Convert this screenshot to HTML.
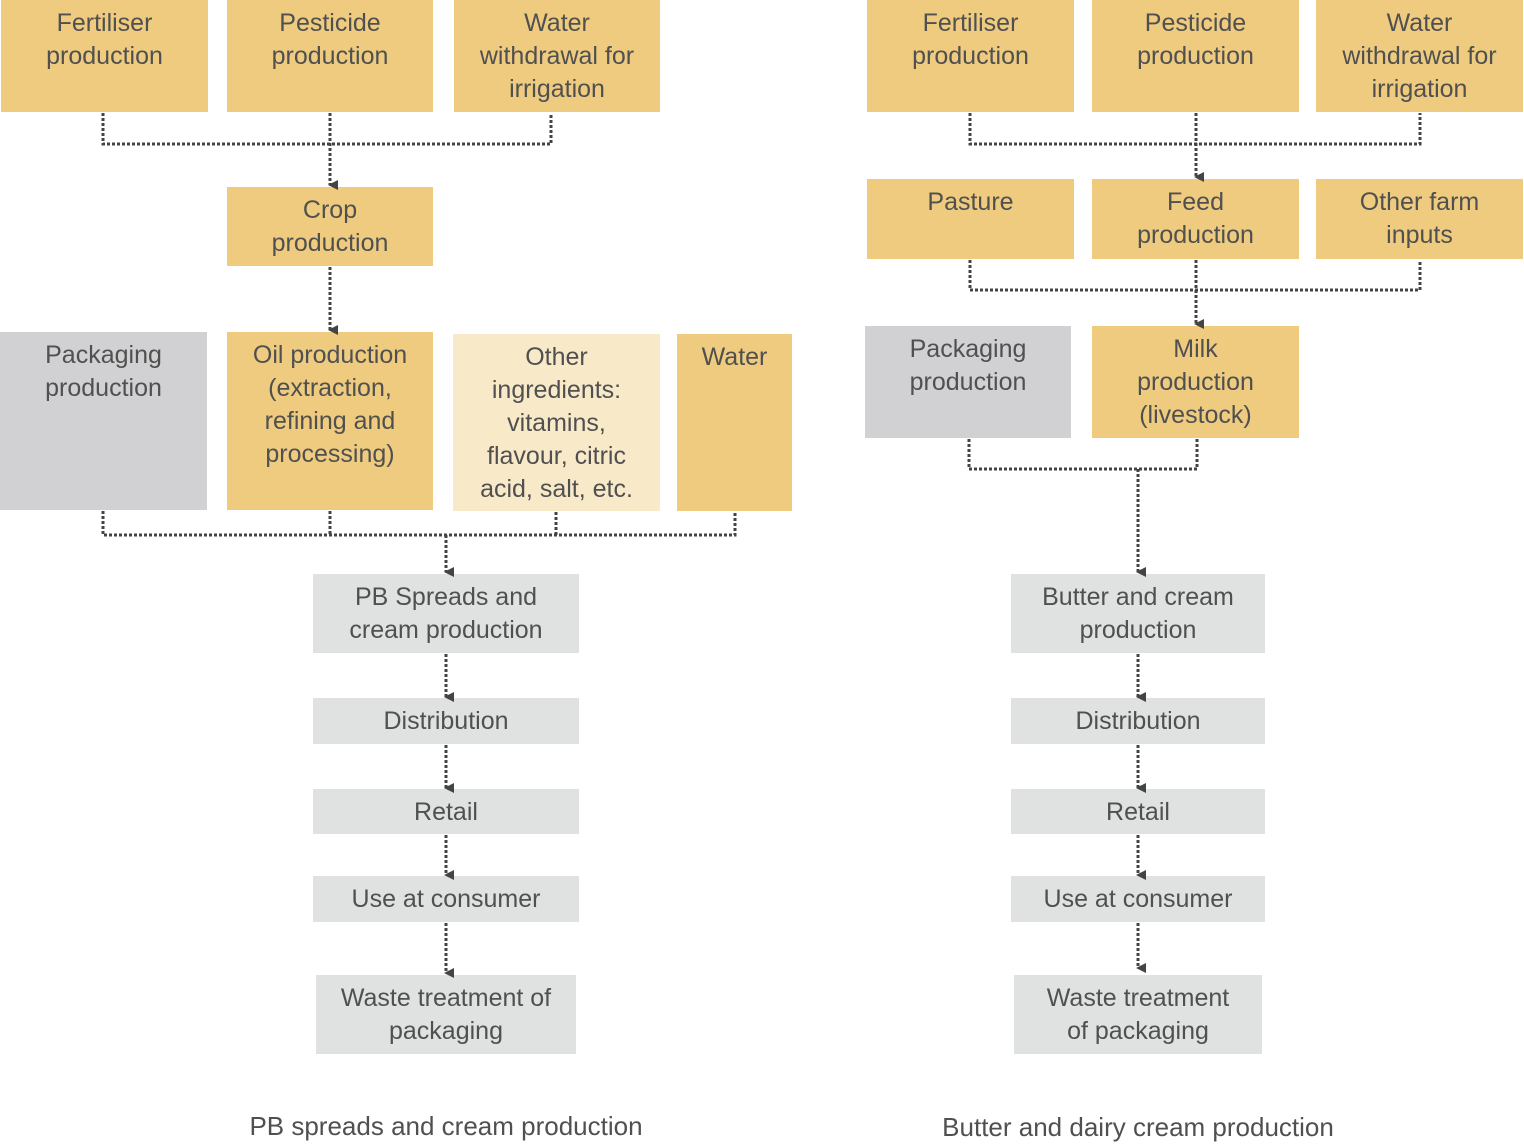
<!DOCTYPE html>
<html><head><meta charset="utf-8"><style>
body{margin:0;width:1524px;height:1145px;background:#fff;position:relative;overflow:hidden;font-family:"Liberation Sans",Arial,sans-serif;}
.b{position:absolute;box-sizing:border-box;padding-top:7px;text-align:center;font-size:25px;line-height:33px;color:#505050;}
.y{background:#eecb7e}.g{background:#d1d1d3}.l{background:#e0e1e1}.c{background:#f8e9c9}
.cap{position:absolute;font-size:26px;color:#505050;text-align:center;width:600px;}
svg{position:absolute;left:0;top:0}
</style></head><body>
<div class="b y" style="left:1px;top:0;width:207px;height:112px">Fertiliser<br>production</div>
<div class="b y" style="left:227px;top:0;width:206px;height:112px">Pesticide<br>production</div>
<div class="b y" style="left:454px;top:0;width:206px;height:112px">Water<br>withdrawal for<br>irrigation</div>
<div class="b y" style="left:227px;top:187px;width:206px;height:79px">Crop<br>production</div>
<div class="b g" style="left:0;top:332px;width:207px;height:178px">Packaging<br>production</div>
<div class="b y" style="left:227px;top:332px;width:206px;height:178px">Oil production<br>(extraction,<br>refining and<br>processing)</div>
<div class="b c" style="left:453px;top:334px;width:207px;height:177px">Other<br>ingredients:<br>vitamins,<br>flavour, citric<br>acid, salt, etc.</div>
<div class="b y" style="left:677px;top:334px;width:115px;height:177px">Water</div>
<div class="b l" style="left:313px;top:574px;width:266px;height:79px">PB Spreads and<br>cream production</div>
<div class="b l" style="left:313px;top:698px;width:266px;height:46px">Distribution</div>
<div class="b l" style="left:313px;top:789px;width:266px;height:45px">Retail</div>
<div class="b l" style="left:313px;top:876px;width:266px;height:46px">Use at consumer</div>
<div class="b l" style="left:316px;top:975px;width:260px;height:79px">Waste treatment of<br>packaging</div>
<div class="cap" style="left:146px;top:1111px">PB spreads and cream production</div>

<div class="b y" style="left:867px;top:0;width:207px;height:112px">Fertiliser<br>production</div>
<div class="b y" style="left:1092px;top:0;width:207px;height:112px">Pesticide<br>production</div>
<div class="b y" style="left:1316px;top:0;width:207px;height:112px">Water<br>withdrawal for<br>irrigation</div>
<div class="b y" style="left:867px;top:179px;width:207px;height:80px">Pasture</div>
<div class="b y" style="left:1092px;top:179px;width:207px;height:80px">Feed<br>production</div>
<div class="b y" style="left:1316px;top:179px;width:207px;height:80px">Other farm<br>inputs</div>
<div class="b g" style="left:865px;top:326px;width:206px;height:112px">Packaging<br>production</div>
<div class="b y" style="left:1092px;top:326px;width:207px;height:112px">Milk<br>production<br>(livestock)</div>
<div class="b l" style="left:1011px;top:574px;width:254px;height:79px">Butter and cream<br>production</div>
<div class="b l" style="left:1011px;top:698px;width:254px;height:46px">Distribution</div>
<div class="b l" style="left:1011px;top:789px;width:254px;height:45px">Retail</div>
<div class="b l" style="left:1011px;top:876px;width:254px;height:46px">Use at consumer</div>
<div class="b l" style="left:1014px;top:975px;width:248px;height:79px">Waste treatment<br>of packaging</div>
<div class="cap" style="left:838px;top:1112px">Butter and dairy cream production</div>

<svg width="1524" height="1145">
<defs><marker id="a" markerWidth="10" markerHeight="10" refX="5" refY="8" orient="auto" markerUnits="userSpaceOnUse"><path d="M0,0 L10,0 L5,10 z" fill="#444"/></marker></defs>
<g fill="none" stroke="#444" stroke-width="3" stroke-dasharray="3 2">
<path d="M103,113 V144 H551 V113"/>
<path d="M330,113 V185" marker-end="url(#a)"/>
<path d="M330,267 V330" marker-end="url(#a)"/>
<path d="M103,511 V535 H735 V512 M330,511 V535 M556,512 V535"/>
<path d="M446,535 V572" marker-end="url(#a)"/>
<path d="M446,654 V697" marker-end="url(#a)"/>
<path d="M446,745 V788" marker-end="url(#a)"/>
<path d="M446,835 V875" marker-end="url(#a)"/>
<path d="M446,923 V973" marker-end="url(#a)"/>
<path d="M970,113 V144 H1420 V113"/>
<path d="M1196,113 V177" marker-end="url(#a)"/>
<path d="M970,260 V290 H1420 V260"/>
<path d="M1196,260 V324" marker-end="url(#a)"/>
<path d="M969,439 V469 H1197 V439"/>
<path d="M1138,469 V572" marker-end="url(#a)"/>
<path d="M1138,654 V697" marker-end="url(#a)"/>
<path d="M1138,745 V788" marker-end="url(#a)"/>
<path d="M1138,835 V875" marker-end="url(#a)"/>
<path d="M1138,923 V968" marker-end="url(#a)"/>
</g></svg>
</body></html>
